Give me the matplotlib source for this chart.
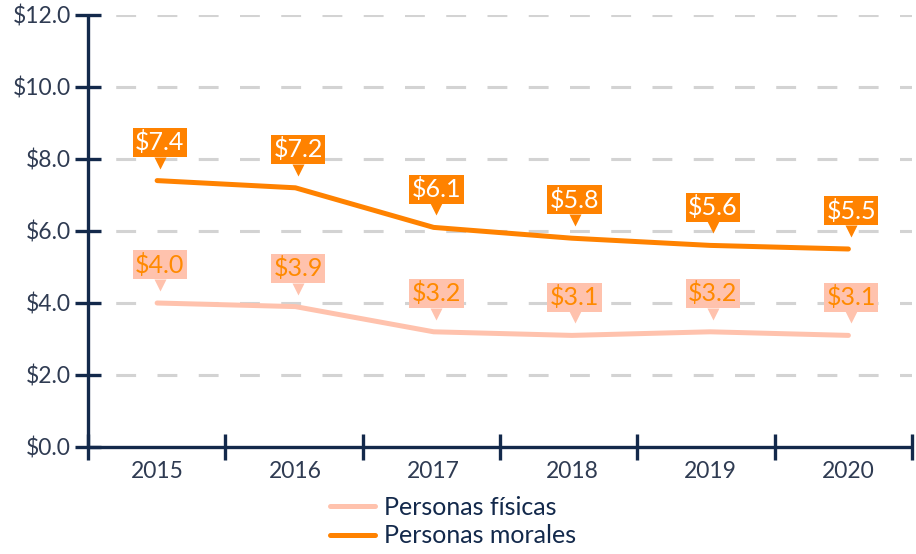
import numpy as np
import matplotlib
matplotlib.use("Agg")
import matplotlib.pyplot as plt
from matplotlib.transforms import offset_copy

plt.rcParams["font.family"] = ["Lato", "DejaVu Sans"]

# Datos (miles de millones de pesos)
years = ["2015", "2016", "2017", "2018", "2019", "2020"]
fisicas = [4.0, 3.9, 3.2, 3.1, 3.2, 3.1]
morales = [7.4, 7.2, 6.1, 5.8, 5.6, 5.5]
yticks = [0, 2, 4, 6, 8, 10, 12]

navy = "#13294b"
label_col = "#2f3b52"
c_fis = "#ffc2ad"
c_mor = "#ff8200"

fig = plt.figure(figsize=(9.16, 5.54), dpi=100)
ax = fig.add_axes([88 / 916, 107 / 554, 824 / 916, 432 / 554])

x = np.arange(len(years))
ax.plot(x, fisicas, color=c_fis, lw=3.6, solid_capstyle="round", label="Personas físicas", zorder=3)
ax.plot(x, morales, color=c_mor, lw=3.6, solid_capstyle="round", label="Personas morales", zorder=3)

ax.set_xlim(-0.5, 5.46)
ax.set_ylim(0, 12)

# ejes
for s in ["top", "right"]:
    ax.spines[s].set_visible(False)
for s in ["left", "bottom"]:
    ax.spines[s].set_color(navy)
    ax.spines[s].set_linewidth(2.4)
    ax.spines[s].set_capstyle("butt")

ax.set_yticks(yticks)
ax.set_yticklabels([f"${v:.1f}" for v in yticks])
ax.tick_params(axis="y", direction="inout", length=19, width=2.4, color=navy,
               labelsize=16.5, labelcolor=label_col, pad=3)

ax.set_xticks(x)
ax.set_xticklabels(years)
ax.set_xticks(np.linspace(-0.5, 5.46, 7), minor=True)
ax.tick_params(axis="x", which="major", length=0, labelsize=16.5, labelcolor=label_col, pad=10)
ax.tick_params(axis="x", which="minor", direction="inout", length=19, width=2.4, color=navy)

# rejilla punteada
for v in yticks[1:]:
    ax.axhline(v, xmin=0.017, xmax=1, color="#d3d3d3", lw=2.2,
               linestyle=(9, (6.5, 7)), zorder=1)

# etiquetas tipo globo
def callouts(vals, face, txt):
    for xi, v in zip(x, vals):
        tri = offset_copy(ax.transData, fig=fig, x=2, y=13, units="points")
        ax.plot(xi, v, marker="v", ms=8, color=face, mec="none",
                transform=tri, zorder=4, clip_on=False)
        ax.annotate(f"${v:.1f}", (xi, v), xytext=(2, 19), textcoords="offset points",
                    ha="center", va="bottom", fontsize=18, color=txt, zorder=5,
                    bbox=dict(boxstyle="square,pad=0.1", fc=face, ec="none"))

callouts(fisicas, c_fis, "#ff8a00")
callouts(morales, c_mor, "white")

leg = fig.legend(loc="upper center", bbox_to_anchor=(0.495, 0.105), frameon=False,
                 fontsize=18, handlelength=1.8, handletextpad=0.35, labelspacing=0.22,
                 borderpad=0, borderaxespad=0)
for t in leg.get_texts():
    t.set_color(navy)

fig.savefig("out.png", dpi=100)
